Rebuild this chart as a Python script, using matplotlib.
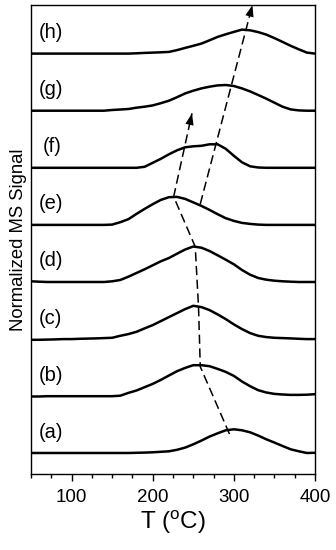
import matplotlib
matplotlib.use("Agg")
import matplotlib.pyplot as plt
from matplotlib.ticker import MultipleLocator

plt.rcParams["font.family"] = ["Liberation Sans", "DejaVu Sans"]
plt.rcParams["mathtext.default"] = "regular"

# temperature grid (deg C)
temps = list(range(50, 401, 10))

# signal heights above each baseline (arbitrary units)
sig_a = [0.3, 0.3, 0.3, 0.3, 0.3, 0.3, 0.3, 0.3, 0.3, 0.3, 0.3, 0.3, 0.3, 0.5, 0.7,
         1.0, 1.5, 2.0, 3.5, 5.7, 9.0, 12.7, 16.7, 20.0, 23.0, 24.0, 23.0, 21.0, 17.7,
         14.0, 10.7, 7.3, 4.0, 2.0, 0.3, 0.5]
sig_b = [-0.3, -0.3, 0, 0, 0, 0, 0, 0, 0, 0, 0, 0.5, 3.3, 5.7, 9.0,
         12.3, 16.3, 20.7, 25.0, 28.3, 31.0, 31.0, 30.0, 27.3, 24.3, 20.3, 14.7, 10.0, 6.0,
         3.7, 2.3, 1.7, 1.3, 1.3, 1.5, 2.0]
sig_c = [-0.7, -0.7, -0.5, -0.3, 0, 0, 0.3, 0.5, 0.7, 1.0, 1.3, 3.3, 5.0, 7.3, 10.7,
         14.0, 18.0, 22.0, 26.0, 30.0, 33.3, 32.0, 29.0, 24.7, 20.0, 14.7, 10.0, 6.0, 3.3,
         2.0, 1.3, 1.0, 0.7, 0.3, 0, 0]
sig_d = [0.7, 0.3, 0, 0, 0, 0, 0, 0, 0, 0, 0.7, 2.0, 5.3, 9.0, 12.7,
         16.7, 20.7, 24.0, 28.3, 32.5, 35.5, 34.3, 31.0, 26.7, 22.3, 17.7, 12.0, 7.3, 4.0,
         2.3, 1.3, 0.7, 0.3, 0, 0, 0]
sig_e = [0, 0, 0, 0, 0, 0, 0, 0, 0, 0, 0.3, 2.7, 5.7, 11.0, 16.0,
         20.7, 25.0, 27.7, 28.0, 26.0, 22.5, 19.0, 15.0, 10.7, 6.7, 4.0, 2.0, 1.0, 0.3,
         0, 0, 0, 0, 0, 0, 0]
sig_f = [0, 0, 0, 0, 0, 0, 0, 0, 0, 0, 0, 0, 0, 0, 1.0,
         5.0, 9.0, 13.5, 17.5, 20.5, 21.5, 22.0, 23.5, 23.5, 19.0, 12.0, 5.5, 1.5, 0.3,
         0, 0, 0, 0, 0, 0, 0]
sig_g = [0, 0, 0, 0, 0, 0, 0, 0, 0, 0, 0.7, 1.2, 1.7, 3.0, 4.0,
         5.3, 7.5, 10.0, 13.5, 17.3, 20.0, 22.3, 24.0, 25.3, 25.7, 24.7, 22.3, 19.3, 15.7,
         12.0, 8.0, 4.0, 1.3, 0.3, 0, 0]
sig_h = [0, 0, 0, 0, 0, 0, 0, 0, 0, 0, 0, 0, 0, 0.3, 0.7,
         1.0, 1.3, 1.7, 3.5, 5.7, 7.8, 10.0, 13.3, 16.7, 19.3, 21.7, 24.0, 23.3, 21.5,
         19.0, 15.5, 11.7, 7.8, 4.3, 1.0, 0]

signals = [sig_a, sig_b, sig_c, sig_d, sig_e, sig_f, sig_g, sig_h]
labels = ["(a)", "(b)", "(c)", "(d)", "(e)", "(f)", "(g)", "(h)"]

# dashed trend lines through the peaks (T, stacked signal)
trend1_T = [294.6, 258.6, 256.5, 252.4, 225.8, 248.4]
trend1_y = [40.0, 107.3, 166.0, 227.3, 277.3, 360.7]
trend2_T = [258.6, 322.9]
trend2_y = [270.0, 469.0]

base0 = 20.7
spacing = 57.1

fig = plt.figure(figsize=(3.36, 5.5), dpi=100)
ax = fig.add_axes([0.0923, 0.1382, 0.8452, 0.8527])

for i, (sig, lab) in enumerate(zip(signals, labels)):
    base = base0 + i * spacing
    ax.plot(temps, [base + s for s in sig], color="black", lw=1.8,
            solid_joinstyle="round")
    lx = 65.0 if lab == "(f)" else 59.5
    ax.text(lx, base + 21, lab, fontsize=14.5, va="center", ha="left")

for tx, ty in [(trend1_T, trend1_y), (trend2_T, trend2_y)]:
    ax.plot(tx, ty, color="black", lw=1.1, dashes=(6, 3))
    ax.annotate("", xy=(tx[-1], ty[-1]), xytext=(tx[-2], ty[-2]),
                arrowprops=dict(arrowstyle="-|>,head_length=0.7,head_width=0.25",
                                color="black", lw=0, mutation_scale=12,
                                shrinkA=0, shrinkB=0),
                annotation_clip=False)

ax.set_xlim(50, 400)
ax.set_ylim(0, 469)
ax.xaxis.set_major_locator(MultipleLocator(100))
ax.xaxis.set_minor_locator(MultipleLocator(25))
ax.tick_params(axis="x", which="major", direction="out", length=5, width=1,
               labelsize=13.5, pad=6)
ax.tick_params(axis="x", which="minor", direction="out", length=3, width=1)
ax.set_yticks([])
for sp in ax.spines.values():
    sp.set_linewidth(1.0)

ax.set_xlabel("T ($^{o}$C)", fontsize=17.5, labelpad=2)
ax.set_ylabel("Normalized MS Signal", fontsize=13.3, labelpad=3)

fig.savefig("out.png", dpi=100)
